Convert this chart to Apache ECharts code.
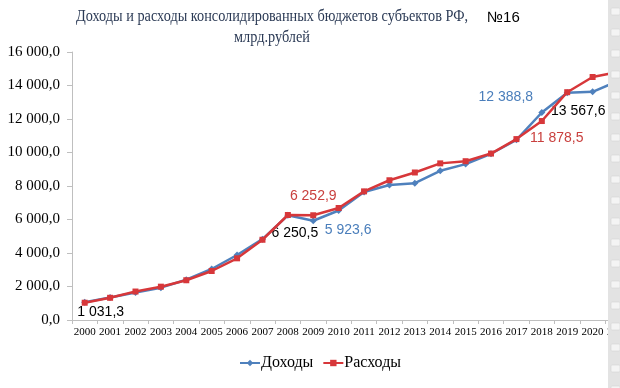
<!DOCTYPE html>
<html><head><meta charset="utf-8">
<script src="https://cdn.jsdelivr.net/npm/echarts@6/dist/echarts.min.js"></script>
<style>html,body{margin:0;padding:0;background:#fff;overflow:hidden}#c{width:632px;height:388px}</style>
</head><body><div id="c"></div>
<script>
const years = ['2000','2001','2002','2003','2004','2005','2006','2007','2008','2009','2010','2011','2012','2013','2014','2015','2016','2017','2018','2019','2020','2021'];
const revenues = [1065, 1342, 1644, 1930, 2404, 3045, 3880, 4828, 6250.5, 5923.6, 6537, 7644, 8064, 8165, 8906, 9308, 9924, 10759, 12388.8, 13567.6, 13620, 14270];
const expenses = [1031.3, 1326, 1700, 1990, 2373, 2925, 3682, 4790, 6268, 6252.9, 6687, 7679, 8343, 8807, 9351, 9480, 9936, 10800, 11878.5, 13600, 14507, 14806];
const seriesNames = ['Доходы', 'Расходы'];
const titleLines = ['Доходы и расходы консолидированных бюджетов субъектов РФ,', 'млрд.рублей'];

function fmt(v) {
  const s = v.toFixed(1).split('.');
  return s[0].replace(/\B(?=(\d{3})+(?!\d))/g, ' ') + ',' + s[1];
}
const BLUE = '#4f81bd', RED = '#d7373a';
const LBLUE = '#4a7ebb', LRED = '#c9403e';
const labelFont = {fontFamily: 'Liberation Sans', fontSize: 14};
const revLabels = {
  8: {position: 'bottom', offset: [7, 2], color: '#000'},
  9: {position: 'right', offset: [3, 9], color: LBLUE},
  18: {position: 'top', offset: [-36, 0], color: LBLUE},
  19: {position: 'bottom', offset: [11, 3], color: '#000'}
};
const expLabels = {
  0: {position: 'bottom', offset: [16, -6], color: '#000'},
  9: {position: 'top', offset: [0, -4], color: LRED},
  18: {position: 'bottom', offset: [15, 2], color: LRED}
};
function build(arr, labels) {
  return arr.map((v, i) => labels[i]
    ? {value: v, label: Object.assign({show: true, formatter: p => fmt(p.value)}, labelFont, labels[i])}
    : v);
}
const sideBoxes = [];
for (let y = 8; y < 388; y += 21) {
  sideBoxes.push({type: 'rect', z: 101, shape: {x: 611, y: y, width: 9, height: 7, r: 1}, style: {fill: '#f4f4f4', stroke: '#cfcfcf', lineWidth: 0.5}});
}
const chart = echarts.init(document.getElementById('c'), null, {renderer: 'canvas'});
chart.setOption({
  animation: false,
  grid: {left: 72, top: 52, right: 1, bottom: 68},
  xAxis: {
    type: 'category', data: years, boundaryGap: true,
    axisLine: {lineStyle: {color: '#bfbfbf'}},
    axisTick: {show: true, length: 4, lineStyle: {color: '#bfbfbf'}},
    axisLabel: {color: '#000', fontFamily: 'Liberation Serif', fontSize: 11, margin: 7, interval: 0}
  },
  yAxis: {
    type: 'value', min: 0, max: 16000, interval: 2000,
    axisLine: {show: true, lineStyle: {color: '#bfbfbf'}},
    axisTick: {show: true, length: 5, lineStyle: {color: '#bfbfbf'}},
    splitLine: {show: false},
    axisLabel: {color: '#000', fontFamily: 'Liberation Serif', fontSize: 15, margin: 12, formatter: v => fmt(v)}
  },
  legend: {
    left: 234, top: 350, itemWidth: 20, itemHeight: 8, itemGap: 9,
    textStyle: {fontFamily: 'Liberation Serif', fontSize: 16, color: '#000', padding: [0, 0, 0, -4]},
    data: seriesNames
  },
  series: [
    {name: seriesNames[0], type: 'line', data: build(revenues, revLabels), symbol: 'diamond', symbolSize: 7,
     lineStyle: {color: BLUE, width: 2.5}, itemStyle: {color: BLUE}, z: 2},
    {name: seriesNames[1], type: 'line', data: build(expenses, expLabels), symbol: 'rect', symbolSize: 6,
     lineStyle: {color: RED, width: 2.5}, itemStyle: {color: RED}, z: 3}
  ],
  graphic: [
    {type: 'text', x: 272, y: 17, scaleX: 0.84, style: {text: titleLines[0], x: 0, y: 0, textAlign: 'center', textVerticalAlign: 'middle', fill: '#2b3a55', font: '17px "Liberation Serif"'}},
    {type: 'text', x: 272, y: 38, scaleX: 0.84, style: {text: titleLines[1], x: 0, y: 0, textAlign: 'center', textVerticalAlign: 'middle', fill: '#2b3a55', font: '17px "Liberation Serif"'}},
    {type: 'text', style: {text: '№16', x: 487, y: 18, textAlign: 'left', textVerticalAlign: 'middle', fill: '#000', font: '15px "Liberation Sans"'}},
    {type: 'rect', z: 100, shape: {x: 608, y: 0, width: 24, height: 388}, style: {fill: '#e3e3e3'}}
  ].concat(sideBoxes)
});
</script></body></html>
